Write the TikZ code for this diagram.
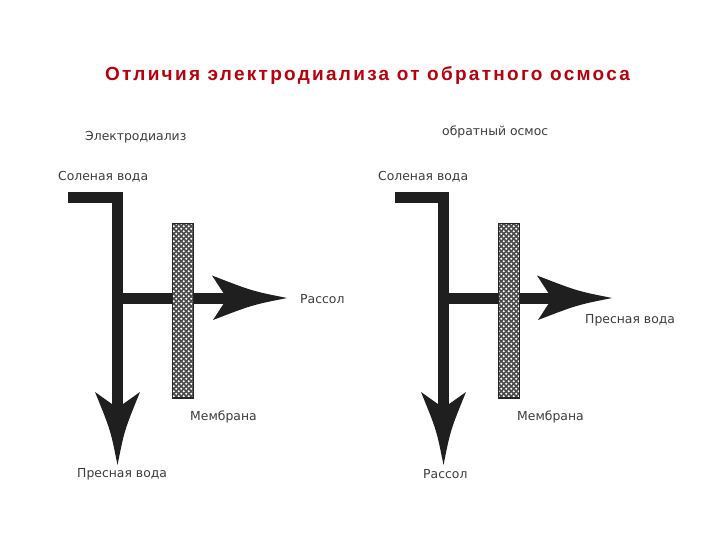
\documentclass[tikz,border=0pt]{standalone}
\usepackage{fontspec}
\setmainfont{Liberation Sans}
\newfontfamily\labelfont{DejaVu Sans}
\newfontfamily\titlefont[LetterSpace=12]{Liberation Sans}
\usetikzlibrary{patterns}
\definecolor{titlered}{RGB}{185,0,12}
\definecolor{labelgray}{RGB}{60,60,60}
\pgfdeclarepatternformonly{meshdots}{\pgfqpoint{-1pt}{-1pt}}{\pgfqpoint{6pt}{6pt}}{\pgfqpoint{5pt}{5pt}}{%
  \pgfpathcircle{\pgfqpoint{1.25pt}{1.25pt}}{1.15pt}\pgfusepath{fill}%
  \pgfpathcircle{\pgfqpoint{3.75pt}{3.75pt}}{1.15pt}\pgfusepath{fill}}
\begin{document}
\begin{tikzpicture}[x=1pt,y=-1pt,
  bar/.style={line width=11pt, line join=miter, draw=black!88},
  membrane/.style={draw=black!85, line width=1.3pt, preaction={fill=black!70},
    pattern=meshdots, pattern color=white},
  lbl/.style={text=labelgray, font=\labelfont\fontsize{12.4}{14}\selectfont, inner sep=0pt, anchor=west},
  ttl/.style={text=titlered, font=\titlefont\bfseries\fontsize{19}{22}\selectfont, inner sep=0pt},
  rhead/.pic={\fill[black!88] (0,0) .. controls (-35,-7) .. (-75,-22.5) -- (-60,0.5) -- (-74,22) .. controls (-35,7) .. (0,0) -- cycle;},
  dhead/.pic={\fill[black!88] (0,0) .. controls (-7,-35) .. (-22.5,-73) -- (0,-57) -- (22.5,-73) .. controls (7,-35) .. (0,0) -- cycle;}
]
\useasboundingbox (0,0) rectangle (720,540);
\node[ttl] (title) at (367.5,76) {Отличия электродиализа от обратного осмоса};

% left diagram
\coordinate (Lin) at (68,197.5);
\coordinate (Lcorner) at (117.5,197.5);
\coordinate (Ljoin) at (117.5,298.5);
\coordinate (Ldown) at (117.5,465);
\coordinate (Lright) at (287,298);
\draw[bar] (Lin) -- (Lcorner) -- (117.5,412);
\draw[bar] (Ljoin) -- (230,298.5);
\pic at (Lright) {rhead};
\pic at (Ldown) {dhead};
\draw[membrane] (172.5,223.5) rectangle (193.5,398);

\node[lbl] (Lt) at (85,137.5) {Электродиализ};
\node[lbl] (Lsalt) at (58,177) {Соленая вода};
\node[lbl] (Lbrine) at (300,299) {Рассол};
\node[lbl] (Lmem) at (190,417) {Мембрана};
\node[lbl] (Lfresh) at (77,474) {Пресная вода};

% right diagram
\begin{scope}[xshift=326pt]
\coordinate (Rin) at (69,197.5);
\coordinate (Rcorner) at (117.5,197.5);
\coordinate (Rjoin) at (117.5,298.5);
\coordinate (Rdown) at (117.5,465);
\coordinate (Rright) at (286,298);
\draw[bar] (Rin) -- (Rcorner) -- (117.5,412);
\draw[bar] (Rjoin) -- (230,298.5);
\pic at (Rright) {rhead};
\pic at (Rdown) {dhead};
\draw[membrane] (172.5,223.5) rectangle (193.5,398);
\end{scope}

\node[lbl] (Rt) at (442,132) {обратный осмос};
\node[lbl] (Rsalt) at (378,177) {Соленая вода};
\node[lbl] (Rfresh) at (585,320) {Пресная вода};
\node[lbl] (Rmem) at (517,417) {Мембрана};
\node[lbl] (Rbrine) at (423,474) {Рассол};
\end{tikzpicture}
\end{document}
